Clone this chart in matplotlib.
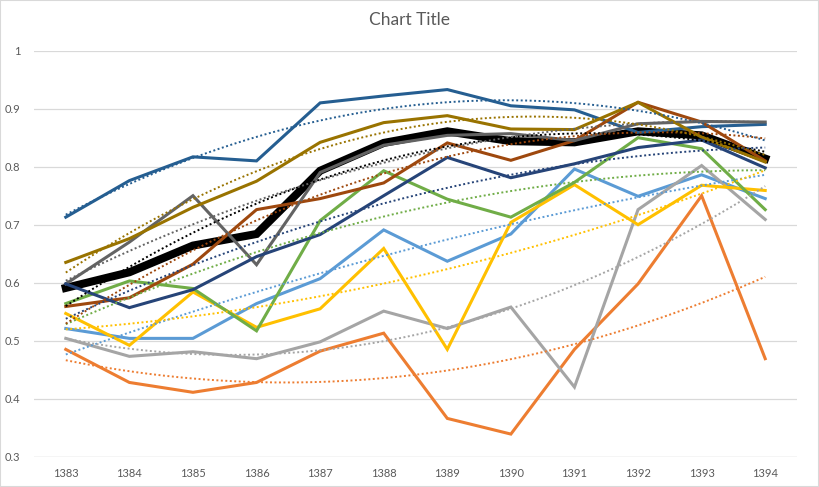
import numpy as np
import matplotlib
matplotlib.use("Agg")
import matplotlib.pyplot as plt

plt.rcParams['font.family'] = ['Lato', 'DejaVu Sans']

years = ['1383', '1384', '1385', '1386', '1387', '1388',
         '1389', '1390', '1391', '1392', '1393', '1394']

# series values (Excel series order)
light_blue = [0.521, 0.504, 0.504, 0.564, 0.607, 0.691, 0.637, 0.684, 0.796, 0.749, 0.786, 0.745]
orange     = [0.485, 0.428, 0.411, 0.428, 0.482, 0.513, 0.366, 0.339, 0.485, 0.598, 0.750, 0.469]
light_gray = [0.504, 0.473, 0.481, 0.469, 0.498, 0.551, 0.521, 0.558, 0.420, 0.726, 0.802, 0.709]
gold       = [0.547, 0.492, 0.584, 0.523, 0.555, 0.659, 0.485, 0.704, 0.769, 0.700, 0.768, 0.759]
average    = [0.591, 0.618, 0.664, 0.684, 0.793, 0.841, 0.861, 0.844, 0.842, 0.861, 0.854, 0.814]
green      = [0.564, 0.603, 0.590, 0.517, 0.707, 0.793, 0.744, 0.713, 0.773, 0.850, 0.831, 0.726]
steel_blue = [0.713, 0.776, 0.817, 0.810, 0.910, 0.922, 0.933, 0.905, 0.898, 0.859, 0.869, 0.873]
brown      = [0.559, 0.574, 0.632, 0.726, 0.745, 0.772, 0.841, 0.811, 0.845, 0.911, 0.877, 0.810]
dark_gray  = [0.598, 0.670, 0.750, 0.631, 0.790, 0.837, 0.854, 0.857, 0.845, 0.874, 0.878, 0.877]
olive      = [0.635, 0.676, 0.730, 0.775, 0.842, 0.876, 0.888, 0.865, 0.864, 0.911, 0.851, 0.808]
navy       = [0.598, 0.557, 0.588, 0.645, 0.683, 0.750, 0.816, 0.781, 0.805, 0.833, 0.846, 0.798]

series = [
    (light_blue, '#5B9BD5', 2.2),
    (orange, '#ED7D31', 2.2),
    (light_gray, '#A5A5A5', 2.2),
    (gold, '#FFC000', 2.2),
    (average, '#000000', 5.8),
    (green, '#70AD47', 2.2),
    (steel_blue, '#255E91', 2.2),
    (brown, '#9E480E', 2.2),
    (dark_gray, '#636363', 2.2),
    (olive, '#997300', 2.2),
    (navy, '#264478', 2.2),
]

fig = plt.figure(figsize=(8.19, 4.87), dpi=100)
ax = fig.add_axes([34 / 819, 1 - 456.7 / 487, (797 - 34) / 819, (456.7 - 50.7) / 487])

x = np.arange(len(years))
for vals, col, lw in series:
    ax.plot(x, vals, color=col, lw=lw, solid_joinstyle='miter', zorder=3)

# polynomial (order 2) trendlines, as Excel draws them
for vals, col, lw in series:
    coef = np.polyfit(x, vals, 2)
    xs = np.linspace(x[0], x[-1], 200)
    ax.plot(xs, np.polyval(coef, xs), color=col, lw=1.4,
            linestyle=(0, (1, 1.3)), zorder=4)

ax.set_xlim(-0.5, len(years) - 0.5)
ax.set_ylim(0.3, 1.0)
ax.set_yticks(np.arange(0.3, 1.01, 0.1))
ax.set_yticklabels(['0.3', '0.4', '0.5', '0.6', '0.7', '0.8', '0.9', '1'])
ax.set_xticks(x)
ax.set_xticklabels(years)
ax.tick_params(length=0, labelsize=8, colors='#595959')
ax.tick_params(axis='y', pad=10)
ax.tick_params(axis='x', pad=8)
ax.grid(axis='y', color='#D9D9D9', lw=0.9, zorder=0)
for s in ax.spines.values():
    s.set_visible(False)
ax.axhline(0.3, color='#D9D9D9', lw=0.9, zorder=1)

fig.text(0.5, 1 - 20 / 487, 'Chart Title', ha='center', va='center',
         fontsize=12.5, color='#595959')

# chart area border
fig.patches.append(plt.Rectangle((0, 0), 1, 1, transform=fig.transFigure,
                                 fill=False, edgecolor='#D9D9D9', lw=1.5))

fig.savefig('out.png', dpi=100)
